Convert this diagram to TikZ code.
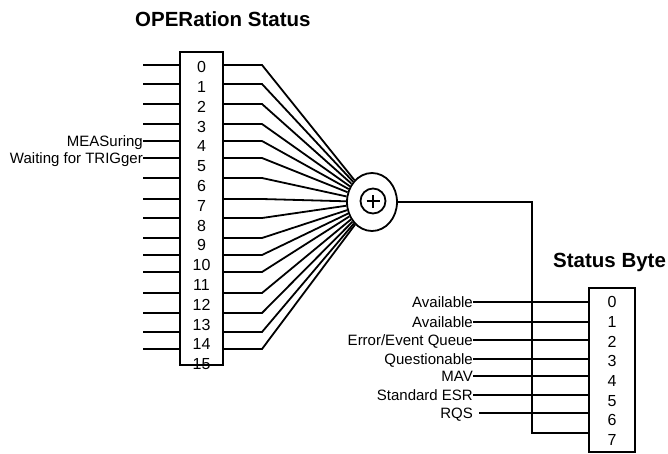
\documentclass[tikz,border=0pt]{standalone}
\usepackage{fontspec}
\setmainfont{Liberation Sans}
\usetikzlibrary{shapes.geometric}
\tikzset{
  wire/.style={line width=1.8pt},
  bitbox/.style={draw, line width=1.8pt, inner sep=0pt},
  bitnum/.style={font=\fontsize{16}{16}\selectfont, inner sep=0pt,
                 text height=11.4pt, text depth=0pt},
  sidelabel/.style={font=\fontsize{15}{15}\selectfont, inner sep=0pt,
                    text height=10.7pt, text depth=0pt, anchor=east},
  regtitle/.style={font=\fontsize{20.5}{21}\selectfont\bfseries,
                   inner sep=0pt, anchor=base west},
}

\begin{document}
\begin{tikzpicture}[x=1pt, y=-1pt]
  \useasboundingbox (0,0) rectangle (668,453);

  % Titles
  \node[regtitle] (optitle) at (135,26) {OPERation Status};
  \node[regtitle] (sbtitle) at (553,267) {Status Byte};

  % OPERation register
  \node[bitbox, minimum width=43pt, minimum height=313pt] (opbox) at (201.5,208.5) {};
  \foreach \i in {0,...,15}
    \node[bitnum] (op\i) at (201.5,{67+19.8*\i}) {\i};

  % Summing junction
  \node[ellipse, draw, line width=1.8pt, minimum width=50pt,
        minimum height=58pt, inner sep=0pt] (sum) at (372,202) {};
  \node[circle, draw, line width=1.8pt, minimum size=25pt,
        inner sep=0pt] (plus) at (373,201) {};
  \draw[wire] ([xshift=-6.5pt]plus.center) -- ([xshift=6.5pt]plus.center);
  \draw[wire] ([yshift=-6.5pt]plus.center) -- ([yshift=6.5pt]plus.center);

  % Inputs and fan-in
  \foreach \i/\y in {0/65, 1/84, 2/104, 3/124, 4/141, 5/158, 6/178, 7/199,
                     8/218, 9/238, 10/255, 11/272, 12/293, 13/313, 14/332, 15/349} {
    \coordinate (in\i) at (143,\y);
    \coordinate (fan\i) at (262,\y);
    \draw[wire] (in\i) -- (in\i -| opbox.west);
    \draw[wire] (in\i -| opbox.east) -- (fan\i) -- (sum);
  }
  \node[sidelabel] (meas) at (in4) {MEASuring};
  \node[sidelabel] (trig) at (in5) {Waiting for TRIGger};

  % Status Byte register
  \node[bitbox, minimum width=46pt, minimum height=164pt] (sbbox) at (612,370) {};
  \foreach \i in {0,...,7}
    \node[bitnum] (sb\i) at (612,{302+19.7*\i}) {\i};

  % Summary inputs
  \node[sidelabel] (avail0) at (473,302) {Available};
  \node[sidelabel] (avail1) at (473,322) {Available};
  \node[sidelabel] (errq) at (473,340) {Error/Event Queue};
  \node[sidelabel] (ques) at (473,359) {Questionable};
  \node[sidelabel] (mav) at (473,376) {MAV};
  \node[sidelabel] (esr) at (473,395) {Standard ESR};
  \node[sidelabel] (rqs) at (473,413) {RQS};
  \foreach \n in {avail0, avail1, errq, ques, mav, esr}
    \draw[wire] (\n.east) -- (\n.east -| sbbox.west);
  \draw[wire] ([xshift=6pt]rqs.east) -- (rqs.east -| sbbox.west);

  % Summary output
  \coordinate (drop) at (532,433);
  \draw[wire] (sum.east) -- (sum.east -| drop) -- (drop) -- (drop -| sbbox.west);
\end{tikzpicture}
\end{document}
